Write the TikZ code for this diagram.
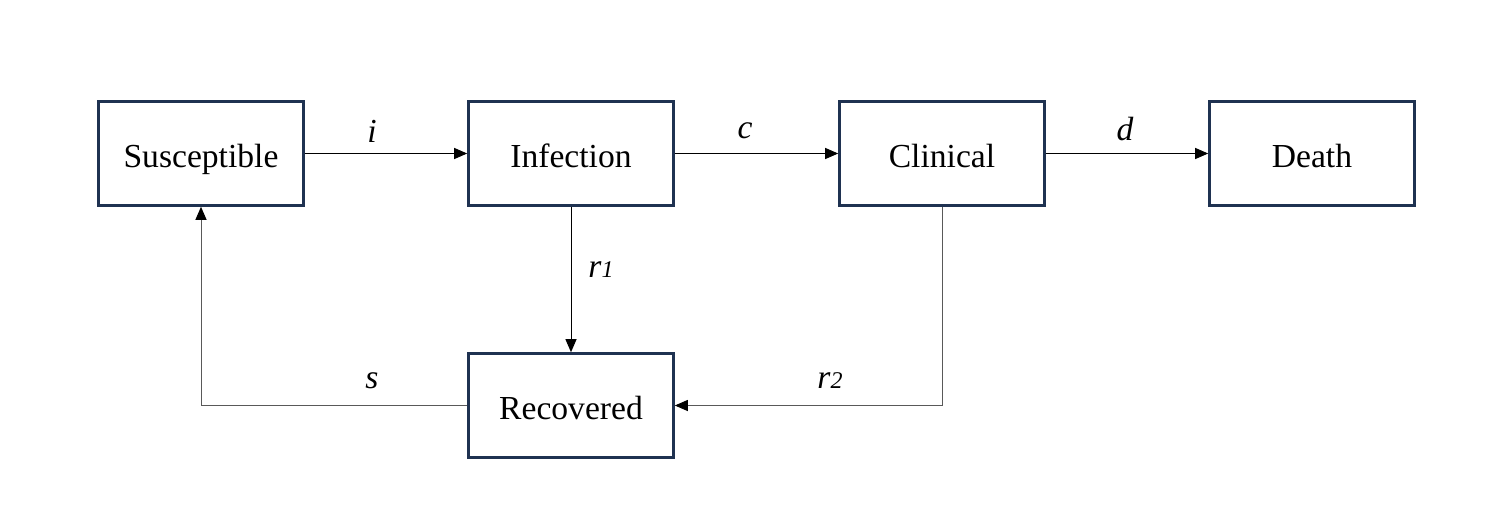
\documentclass[tikz,border=0pt]{standalone}
\usepackage{fontspec}
\setmainfont{Liberation Serif}
\usetikzlibrary{arrows.meta}
\definecolor{boxnavy}{HTML}{1F3251}
\definecolor{linegrey}{HTML}{595959}
\tikzset{
  stage/.style={draw=boxnavy, line width=1.3pt, minimum width=102.5pt, minimum height=52pt, inner sep=0pt, text height=16pt, text depth=2.5pt, font=\fontsize{16.8}{20}\selectfont},
  flow/.style={draw=black, line width=0.5pt, -{Triangle[length=6.5pt,width=5.5pt]}},
  backflow/.style={draw=linegrey, line width=0.5pt, -{Triangle[length=6.5pt,width=5.5pt,color=black]}},
  rate/.style={font=\fontsize{16.8}{20}\selectfont\itshape, inner sep=0pt}
}
\begin{document}
\begin{tikzpicture}[x=0.5pt,y=-0.5pt]
\useasboundingbox (0,0) rectangle (1495,530);
\node[stage] (S) at (201,153.5) {Susceptible};
\node[stage] (I) at (571,153.5) {Infection};
\node[stage] (C) at (942,153.5) {Clinical};
\node[stage] (D) at (1312,153.5) {Death};
\node[stage] (R) at (571,405.5) {Recovered};
\coordinate (cr) at (942,405.5);
\coordinate (rs) at (201,405.5);
\draw[flow] (S) -- (I);
\draw[flow] (I) -- (C);
\draw[flow] (C) -- (D);
\draw[flow] (I) -- (R);
\draw[backflow] (C.south) -- (cr) -- (R.east);
\draw[backflow] (R.west) -- (rs) -- (S.south);
\node[rate] (li) at (372,131) {i};
\node[rate] (lc) at (745,131) {c};
\node[rate] (ld) at (1125,129) {d};
\node[rate] (lr1) at (601,270) {r{\fontsize{12}{14}\selectfont 1}};
\node[rate] (ls) at (372,381) {s};
\node[rate] (lr2) at (830,381) {r{\fontsize{12}{14}\selectfont 2}};
\end{tikzpicture}
\end{document}
